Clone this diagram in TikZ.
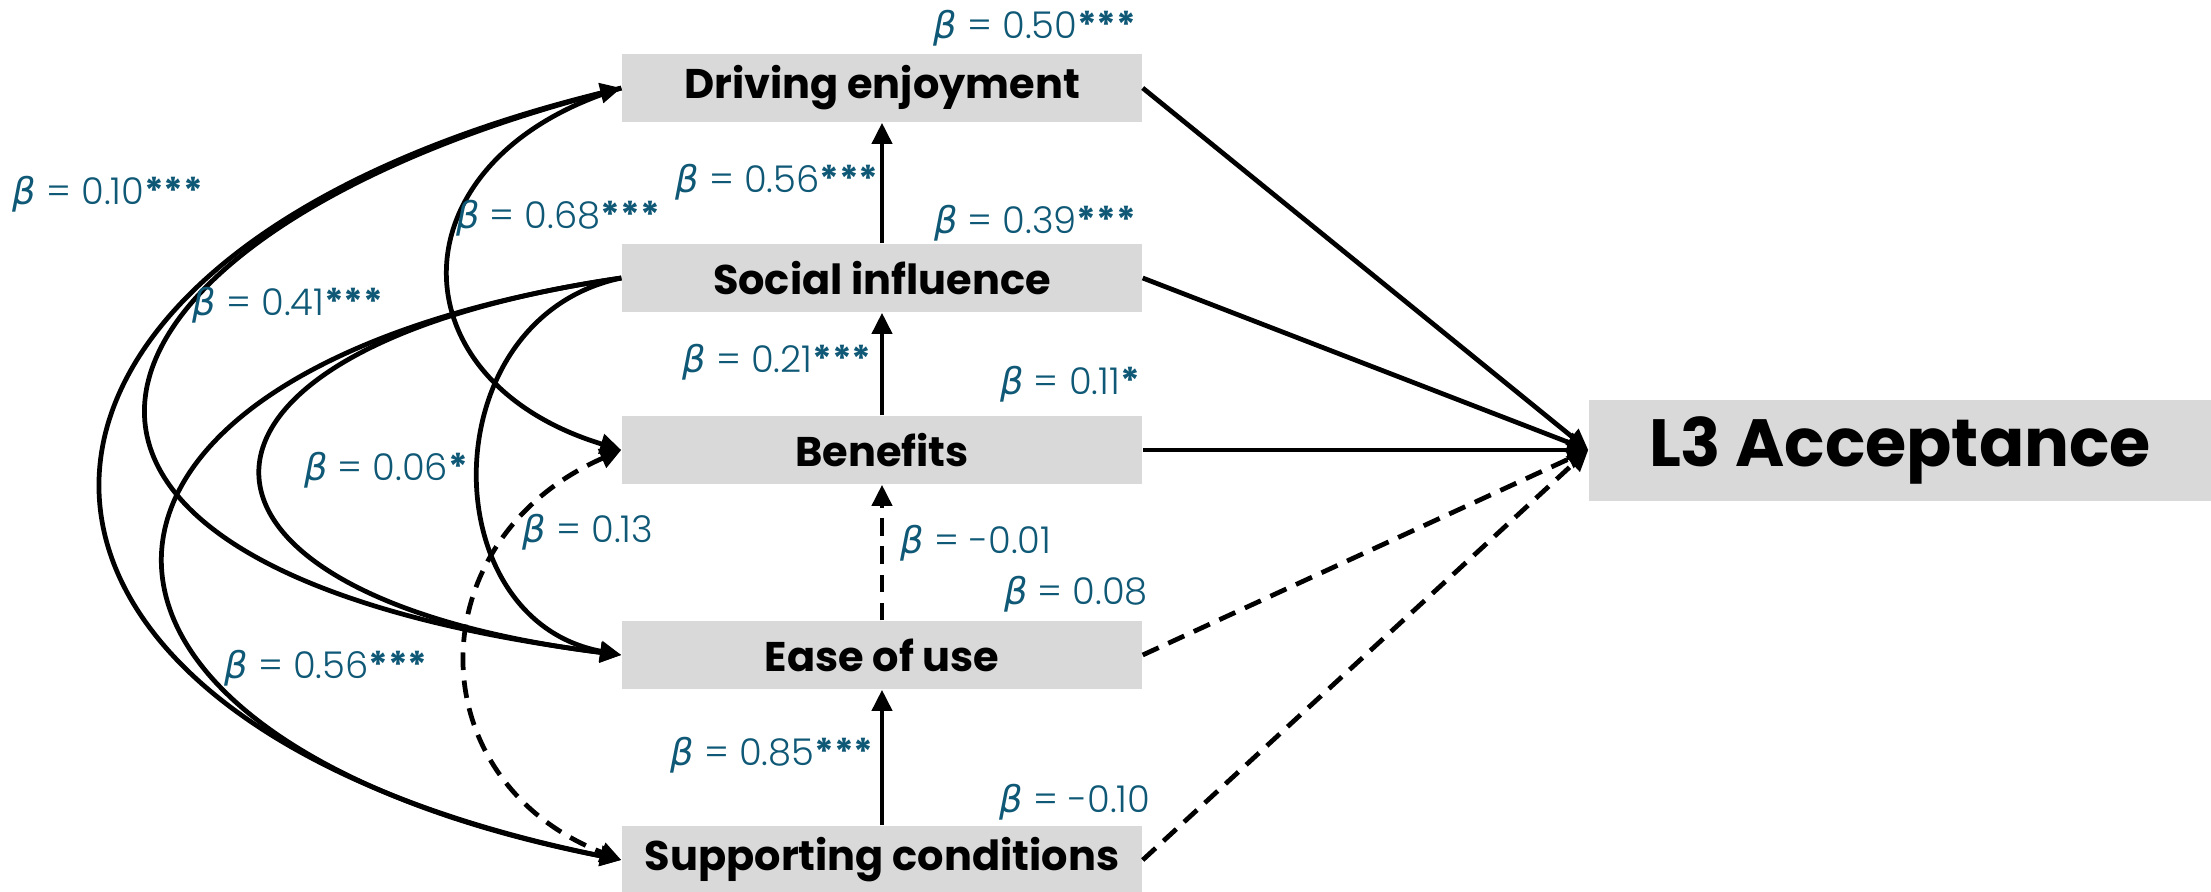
\documentclass[tikz,border=0pt]{standalone}
\usepackage{fontspec}
\setmainfont{Poppins}
\newfontfamily\labfont{Poppins Light}
\newfontfamily\grkfont{DejaVu Sans}
\usepackage{tikz}
\usetikzlibrary{arrows.meta}
\definecolor{boxgray}{HTML}{D9D9D9}
\definecolor{betablue}{HTML}{0F5876}
\newcommand{\bt}{{\grkfont\itshape β}}
\newcommand{\sig}[1]{{\normalfont\bfseries #1}}

\begin{document}
\begin{tikzpicture}[
  >={Triangle[length=6pt,width=5.6pt]},
  every node/.style={inner sep=0pt},
  var/.style={fill=boxgray, minimum width=5.2cm, minimum height=0.68cm, font=\fontsize{11.8}{14}\selectfont\bfseries},
  outcome/.style={fill=boxgray, minimum width=6.22cm, minimum height=1.01cm, font=\fontsize{19}{22}\selectfont\bfseries},
  link/.style={->, line width=1.35pt},
  nslink/.style={link, dash pattern=on 5pt off 3pt},
  coef/.style={anchor=base, text=betablue, font=\labfont\fontsize{10.5}{12}\selectfont}
]
\useasboundingbox (0,0) rectangle (22.11,8.91);

\node[var] (de) at (8.82,8.03) {Driving enjoyment};
\node[var] (si) at (8.82,6.13) {Social influence};
\node[var] (ben) at (8.82,4.41) {Benefits};
\node[var] (eou) at (8.82,2.36) {Ease of use};
\node[var] (sc) at (8.82,0.31) {Supporting conditions};
\node[outcome] (acc) at (19.00,4.41) {L3 Acceptance};

% paths into acceptance
\draw[link] (de.east) -- (acc.west);
\draw[link] (si.east) -- (acc.west);
\draw[link] (ben.east) -- (acc.west);
\draw[nslink] (eou.east) -- (acc.west);
\draw[nslink] (sc.east) -- (acc.west);

% chain between predictors
\draw[link] (si) -- (de);
\draw[link] (ben) -- (si);
\draw[nslink] (eou) -- (ben);
\draw[link] (sc) -- (eou);

% curved paths on the left
\draw[link,<->] (de.west) .. controls +(-6.9,-1.7) and +(-6.9,1.4) .. (sc.west);
\draw[link] (de.west) .. controls +(-5.6,-1.4) and +(-7.0,0.9) .. (eou.west);
\draw[link] (de.west) .. controls +(-2.3,-0.7) and +(-2.3,0.7) .. (ben.west);
\draw[link] (si.west) .. controls +(-6.1,-0.9) and +(-6.1,1.2) .. (sc.west);
\draw[link] (si.west) .. controls +(-4.8,-0.7) and +(-4.8,0.6) .. (eou.west);
\draw[link] (si.west) .. controls +(-1.9,-0.4) and +(-1.9,0.35) .. (eou.west);
\draw[nslink,<->] (ben.west) .. controls +(-2.05,-0.9) and +(-2.05,0.8) .. (sc.west);

% coefficients
\node[coef] (b50) at (10.35,8.53) {\bt{} = 0.50\sig{***}};
\node[coef] (b56a) at (7.77,6.99) {\bt{} = 0.56\sig{***}};
\node[coef] (b39) at (10.35,6.58) {\bt{} = 0.39\sig{***}};
\node[coef] (b21) at (7.77,5.19) {\bt{} = 0.21\sig{***}};
\node[coef] (b11) at (10.70,4.97) {\bt{} = 0.11\sig{*}};
\node[coef] (b01) at (9.76,3.38) {\bt{} = -0.01};
\node[coef] (b08) at (10.76,2.87) {\bt{} = 0.08};
\node[coef] (b85) at (7.72,1.26) {\bt{} = 0.85\sig{***}};
\node[coef] (bm10) at (10.75,0.79) {\bt{} = -0.10};
\node[coef] (b10) at (1.08,6.87) {\bt{} = 0.10\sig{***}};
\node[coef] (b68) at (5.58,6.63) {\bt{} = 0.68\sig{***}};
\node[coef] (b41) at (2.88,5.76) {\bt{} = 0.41\sig{***}};
\node[coef] (b06) at (3.86,4.11) {\bt{} = 0.06\sig{*}};
\node[coef] (b13) at (5.88,3.49) {\bt{} = 0.13};
\node[coef] (b56b) at (3.26,2.13) {\bt{} = 0.56\sig{***}};
\end{tikzpicture}
\end{document}
